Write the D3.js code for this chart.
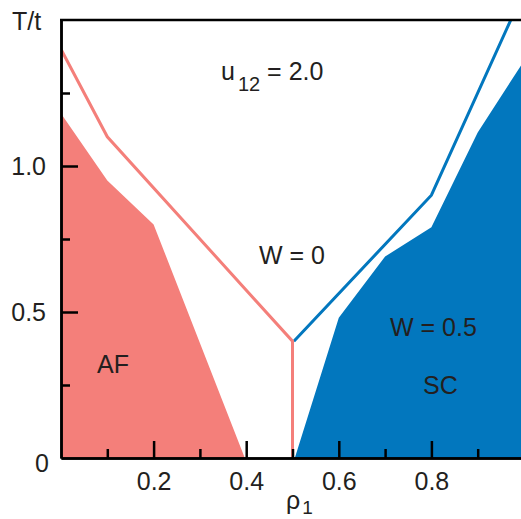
<!DOCTYPE html>
<html>
<head>
<meta charset="utf-8">
<script src="https://cdn.jsdelivr.net/npm/d3@7/dist/d3.min.js"></script>
<style>
  body { margin: 0; background: #fff; }
  svg text { font-family: "Liberation Sans", Arial, Helvetica, sans-serif; fill: #231f20; }
</style>
</head>
<body>
<svg width="521" height="519"></svg>
<script>
// phase boundaries (rho_1, T/t)
const afLine = [[0, 1.4], [0.1, 1.1], [0.5, 0.4], [0.5, 0]];
const scLine = [[0.503, 0.4], [0.8, 0.9], [1.0, 1.6]];
// filled regions
const afRegion = [[0, 0], [0, 1.18], [0.1, 0.95], [0.2, 0.8], [0.397, 0]];
const scRegion = [[0.505, 0], [0.6, 0.48], [0.7, 0.69], [0.8, 0.79], [0.9, 1.115], [1.0, 1.36], [1.0, 0]];

const xMajor = [0.2, 0.4, 0.6, 0.8];
const xMinor = [0.1, 0.3, 0.5, 0.7, 0.9];
const yMajor = [0.5, 1.0];
const yMinor = [0.25, 0.75, 1.25];

var svg = d3.select("svg");

var x = d3.scaleLinear().domain([0, 1]).range([61, 524]);
var y = d3.scaleLinear().domain([0, 1.5]).range([458, 20]);

var pink = "#f47f7a", blue = "#0277be";
var fs = 25;

svg.append("clipPath").attr("id", "plot")
   .append("rect")
   .attr("x", x(0)).attr("y", y(1.5))
   .attr("width", x(1) - x(0)).attr("height", y(0) - y(1.5));

var g = svg.append("g").attr("clip-path", "url(#plot)");

var line = d3.line().x(d => x(d[0])).y(d => y(d[1]));

g.append("path").attr("d", line(afRegion) + "Z").attr("fill", pink);
g.append("path").attr("d", line(scRegion) + "Z").attr("fill", blue);

g.append("path").attr("d", line(scLine))
 .attr("fill", "none").attr("stroke", blue).attr("stroke-width", 3);
g.append("path").attr("d", line(afLine))
 .attr("fill", "none").attr("stroke", pink).attr("stroke-width", 3);

// axes, ticks pointing inward
function styleAxis(sel) {
    sel.selectAll("path.domain").attr("stroke", "#000").attr("stroke-width", 2.5);
    sel.selectAll(".tick line").attr("stroke", "#000").attr("stroke-width", 2.5);
    sel.selectAll("text").attr("font-size", fs).style("font-family", null);
}

svg.append("g")
   .attr("transform", "translate(0," + y(0) + ")")
   .call(d3.axisBottom(x).tickValues(xMinor).tickSizeInner(-9).tickSizeOuter(0).tickFormat(""))
   .call(styleAxis);
svg.append("g")
   .attr("transform", "translate(0," + y(0) + ")")
   .call(d3.axisBottom(x).tickValues(xMajor).tickSizeInner(-17).tickSizeOuter(0)
         .tickPadding(14).tickFormat(d3.format(".1f")))
   .call(styleAxis);

svg.append("g")
   .attr("transform", "translate(" + x(0) + ",0)")
   .call(d3.axisLeft(y).tickValues(yMinor).tickSizeInner(-9).tickSizeOuter(0).tickFormat(""))
   .call(styleAxis);
svg.append("g")
   .attr("transform", "translate(" + x(0) + ",0)")
   .call(d3.axisLeft(y).tickValues(yMajor).tickSizeInner(-17).tickSizeOuter(0)
         .tickPadding(15).tickFormat(d3.format(".1f")))
   .call(styleAxis);

// top frame
svg.append("line")
   .attr("x1", x(0) - 1).attr("x2", x(1))
   .attr("y1", y(1.5)).attr("y2", y(1.5))
   .attr("stroke", "#000").attr("stroke-width", 2.5);

// corner zero, axis titles
svg.append("text").attr("x", 49).attr("y", 472)
   .attr("text-anchor", "end").attr("font-size", fs).text("0");
svg.append("text").attr("x", 12).attr("y", 30)
   .attr("font-size", fs).text("T/t");
var xl = svg.append("text").attr("x", 286).attr("y", 509).attr("font-size", fs);
xl.append("tspan").text("ρ");
xl.append("tspan").attr("font-size", 19).attr("dx", 2).attr("dy", 5).text("1");

// annotations
var u = svg.append("text").attr("x", 221).attr("y", 80).attr("font-size", fs);
u.append("tspan").text("u");
u.append("tspan").attr("font-size", 20).attr("dx", 3).attr("dy", 11).text("12");
u.append("tspan").attr("dy", -11).text(" = 2.0");

svg.append("text").attr("x", 259).attr("y", 264).attr("font-size", fs).text("W = 0");
svg.append("text").attr("x", 390).attr("y", 336).attr("font-size", fs).text("W = 0.5");
svg.append("text").attr("x", 423).attr("y", 394).attr("font-size", fs).text("SC");
svg.append("text").attr("x", 97).attr("y", 373).attr("font-size", fs).text("AF");
</script>
</body>
</html>
